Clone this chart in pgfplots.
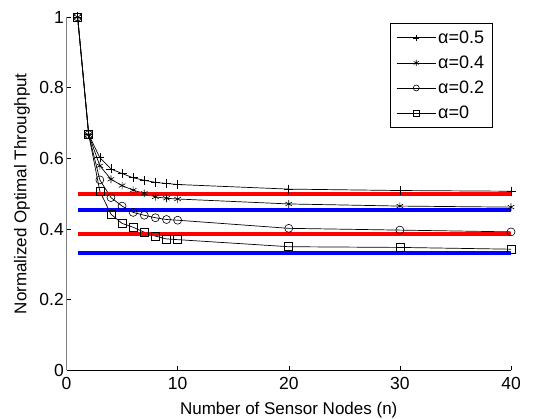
\documentclass[border=0pt]{standalone}
\usepackage{fontspec}
\setmainfont{Liberation Sans}
\usepackage{pgfplots}
\pgfplotsset{compat=1.18}
\begin{document}
\begin{tikzpicture}
\begin{axis}[
  width=444.5pt, height=353.4pt, scale only axis,
  xmin=0, xmax=40, ymin=0, ymax=1,
  axis x line=bottom, axis y line=left,
  axis line style={-},
  y axis line style={gray},
  x axis line style={black},
  xtick={0,10,20,30,40},
  ytick={0,0.2,0.4,0.6,0.8,1},
  yticklabels={0,0.2,0.4,0.6,0.8,1},
  xticklabels={0,10,20,30,40},
  tick align=inside,
  major tick length=4pt,
  tick style={black, line width=0.5pt},
  /pgf/number format/assume math mode=true,
  ticklabel style={font=\fontsize{17.5}{20}\selectfont, inner sep=1pt},
  yticklabel style={xshift=-1.5pt},
  xticklabel style={yshift=-6pt},
  label style={font=\fontsize{17}{20}\selectfont},
  xlabel={Number of Sensor Nodes (n)},
  ylabel={Normalized Optimal Throughput},
  xlabel style={at={(axis description cs:0.5,0)}, anchor=base, yshift=-44pt},
  ylabel style={at={(axis description cs:-0.1,0.5)}, anchor=center},
  legend style={at={(rel axis cs:0.728,0.983)}, anchor=north west,
    draw=black, line width=0.6pt, fill=white,
    font=\fontsize{18}{19}\selectfont, row sep=7pt,
    inner xsep=6pt, inner ysep=5.5pt},
  legend cell align=left,
  legend image code/.code={
    \draw[#1, mark repeat=2, mark phase=2, mark size=3pt] plot coordinates {(0pt,0pt) (19.5pt,0pt) (39pt,0pt)};
  },
]
\addplot[black, line width=0.7pt, mark=+, mark size=4.5pt, mark options={line width=0.6pt}] coordinates {
(1,1) (2,0.667) (3,0.602) (4,0.570) (5,0.557) (6,0.545) (7,0.538) (8,0.532) (9,0.529) (10,0.526) (20,0.513) (30,0.509) (40,0.507)};
\addlegendentry{α=0.5}
\addplot[black, line width=0.7pt, mark=asterisk, mark size=3.8pt, mark options={line width=0.6pt}] coordinates {
(1,1) (2,0.667) (3,0.579) (4,0.541) (5,0.523) (6,0.510) (7,0.501) (8,0.491) (9,0.487) (10,0.485) (20,0.471) (30,0.465) (40,0.462)};
\addlegendentry{α=0.4}
\addplot[black, line width=0.7pt, mark=o, mark size=4pt, mark options={line width=0.6pt}] coordinates {
(1,1) (2,0.667) (3,0.539) (4,0.489) (5,0.465) (6,0.447) (7,0.439) (8,0.432) (9,0.427) (10,0.425) (20,0.402) (30,0.397) (40,0.392)};
\addlegendentry{α=0.2}
\addplot[black, line width=0.7pt, mark=square, mark size=4pt, mark options={line width=0.6pt}] coordinates {
(1,1) (2,0.667) (3,0.507) (4,0.442) (5,0.416) (6,0.405) (7,0.391) (8,0.380) (9,0.372) (10,0.370) (20,0.350) (30,0.348) (40,0.343)};
\addlegendentry{α=0}
\addplot[red, line width=4pt, forget plot] coordinates {(1,0.5) (40,0.5)};
\addplot[blue, line width=4pt, forget plot] coordinates {(1,0.4545) (40,0.4545)};
\addplot[red, line width=4pt, forget plot] coordinates {(1,0.3846) (40,0.3846)};
\addplot[blue, line width=4pt, forget plot] coordinates {(1,0.3333) (40,0.3333)};
\end{axis}
\pgfresetboundingbox
\path[use as bounding box] ([shift={(-66.5pt,-47.6pt)}]current axis.south west) rectangle ([shift={(22pt,17pt)}]current axis.north east);
\end{tikzpicture}
\end{document}
